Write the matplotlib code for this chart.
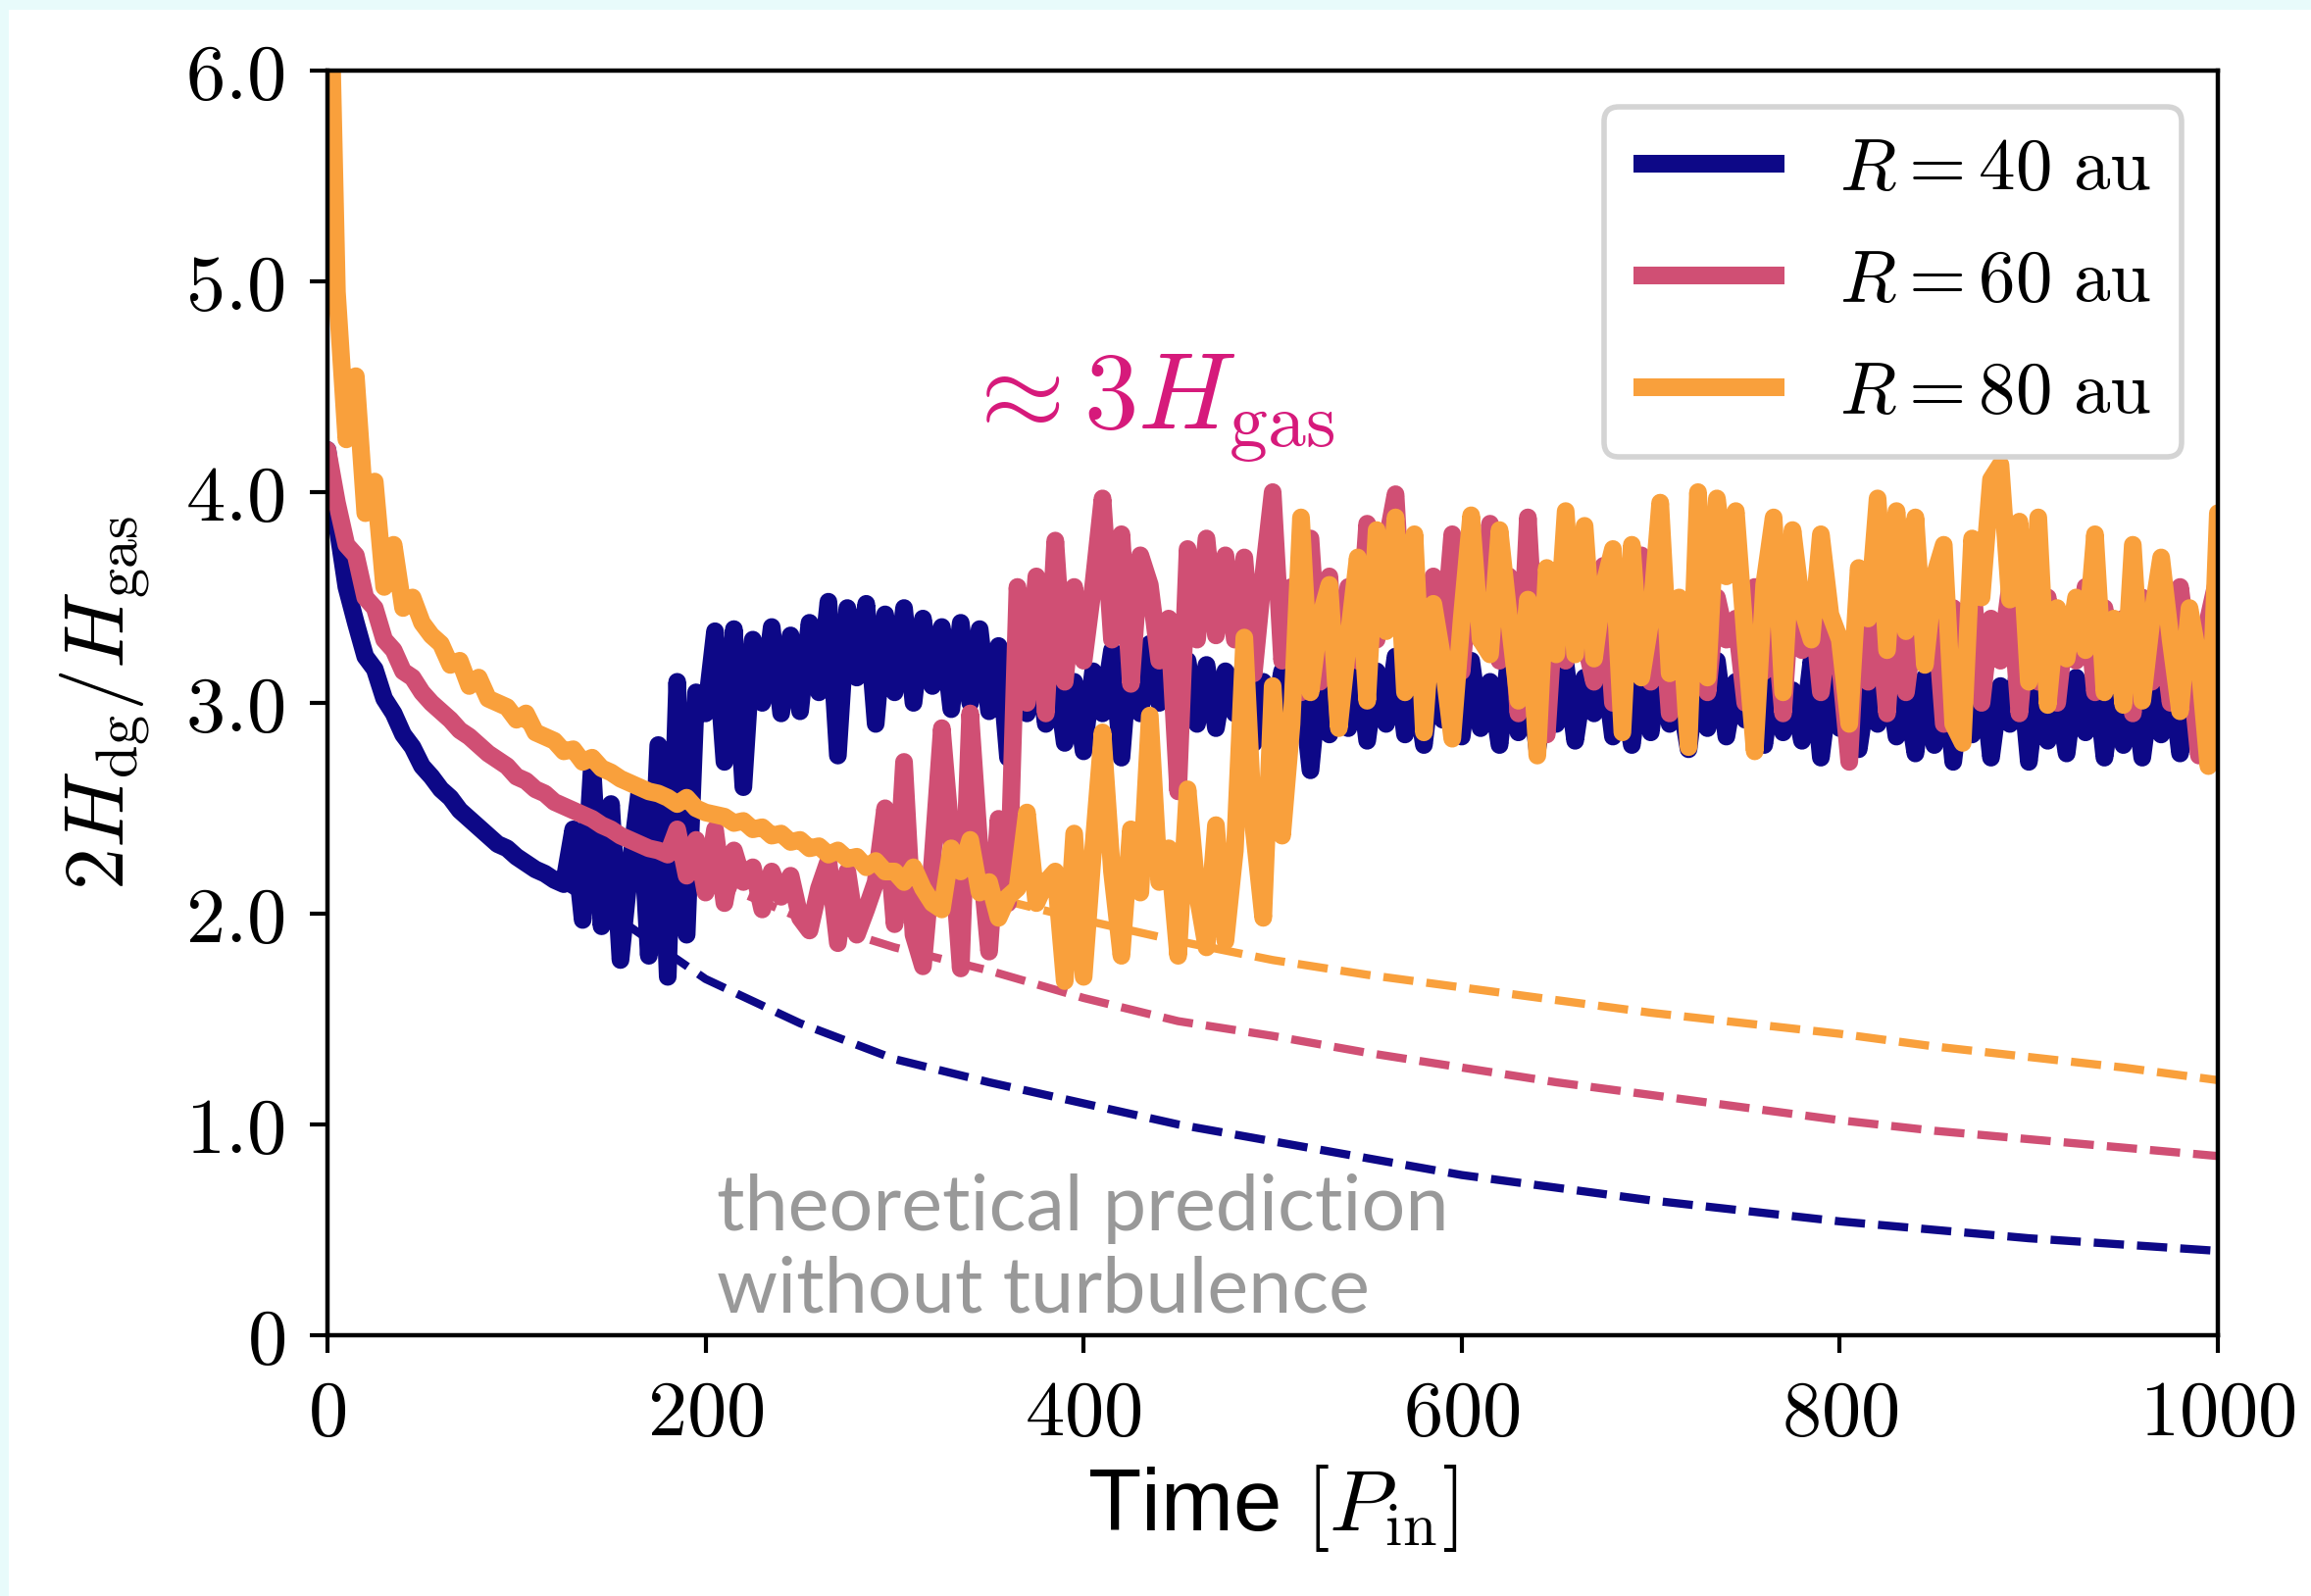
import matplotlib
matplotlib.use("Agg")
import matplotlib.pyplot as plt
from matplotlib.patches import Rectangle
import numpy as np

plt.rcParams["mathtext.fontset"] = "cm"
plt.rcParams["font.family"] = ["Liberation Sans", "DejaVu Sans"]

# sampled every 5 P_in, t = 0 ... 1000
time = np.arange(0, 1001, 5)

h_40au = [
    4.20, 3.85, 3.55, 3.38, 3.22, 3.16, 3.02, 2.95, 2.85, 2.79,
    2.70, 2.65, 2.59, 2.55, 2.49, 2.45, 2.41, 2.37, 2.33, 2.31,
    2.27, 2.24, 2.21, 2.19, 2.16, 2.14, 2.40, 1.97, 2.72, 1.94,
    2.52, 1.78, 2.22, 2.58, 1.80, 2.80, 1.70, 3.10, 1.90, 3.05,
    2.95, 3.34, 2.72, 3.35, 2.60, 3.30, 3.00, 3.36, 2.95, 3.32,
    2.96, 3.38, 3.05, 3.48, 2.75, 3.45, 3.12, 3.47, 2.90, 3.42,
    3.05, 3.45, 3.00, 3.40, 3.08, 3.36, 2.97, 3.38, 3.00, 3.35,
    2.96, 3.27, 2.74, 3.20, 2.95, 3.25, 2.90, 3.15, 2.81, 3.10,
    2.77, 3.15, 2.95, 3.25, 2.74, 3.30, 2.95, 3.28, 3.00, 3.34,
    2.95, 3.20, 2.90, 3.18, 2.88, 3.15, 2.95, 3.20, 2.81, 3.10,
    2.90, 3.15, 2.85, 3.10, 2.68, 3.15, 2.85, 3.12, 2.88, 3.18,
    2.82, 3.15, 2.90, 3.22, 2.85, 3.10, 2.80, 3.18, 2.92, 3.12,
    2.84, 3.20, 2.88, 3.10, 2.80, 3.22, 2.86, 3.15, 2.78, 3.05,
    2.90, 3.18, 2.82, 3.12, 2.95, 3.20, 2.84, 3.08, 2.80, 3.16,
    2.86, 3.22, 2.90, 3.05, 2.78, 3.15, 2.88, 3.20, 2.84, 3.10,
    2.92, 3.18, 2.80, 3.12, 2.86, 3.06, 2.82, 3.20, 2.74, 3.10,
    2.88, 3.15, 2.78, 3.08, 2.90, 3.16, 2.84, 3.05, 2.76, 3.12,
    2.80, 3.18, 2.72, 3.10, 2.85, 3.15, 2.74, 3.08, 2.90, 3.20,
    2.72, 3.10, 2.82, 3.05, 2.76, 3.12, 2.86, 3.15, 2.74, 3.06,
    2.80, 3.10, 2.74, 3.08, 2.85, 3.12, 2.76, 3.05, 2.82, 3.00,
    2.72,
]

h_60au = [
    4.20, 3.95, 3.75, 3.70, 3.50, 3.45, 3.30, 3.25, 3.15, 3.12,
    3.05, 3.00, 2.96, 2.92, 2.87, 2.84, 2.80, 2.76, 2.73, 2.70,
    2.65, 2.63, 2.59, 2.57, 2.53, 2.51, 2.49, 2.47, 2.45, 2.42,
    2.40, 2.37, 2.35, 2.33, 2.31, 2.30, 2.28, 2.40, 2.18, 2.35,
    2.10, 2.40, 2.05, 2.30, 2.15, 2.22, 2.02, 2.20, 2.08, 2.18,
    1.98, 1.92, 2.12, 2.25, 1.86, 2.20, 1.90, 2.02, 2.15, 2.50,
    1.95, 2.72, 1.90, 1.75, 2.25, 2.88, 2.35, 1.74, 2.95, 2.30,
    1.82, 2.45, 2.05, 3.55, 3.00, 3.60, 2.95, 3.77, 3.10, 3.55,
    3.20, 3.55, 3.97, 3.30, 3.80, 3.09, 3.70, 3.56, 3.20, 3.40,
    2.58, 3.73, 3.30, 3.78, 3.32, 3.70, 3.30, 3.69, 3.14, 3.60,
    4.00, 3.20, 3.55, 3.05, 3.78, 3.10, 3.60, 2.90, 3.55, 3.20,
    3.85, 3.30, 3.75, 3.99, 3.20, 3.70, 3.05, 3.60, 3.25, 3.80,
    3.15, 3.70, 3.30, 3.85, 3.20, 3.60, 2.95, 3.88, 3.10, 2.85,
    3.55, 3.20, 3.70, 3.30, 3.10, 3.65, 3.00, 3.50, 3.25, 3.70,
    3.10, 3.55, 2.95, 3.45, 3.20, 3.60, 3.05, 3.50, 3.30, 3.40,
    3.00, 3.55, 3.15, 3.45, 2.95, 3.60, 3.25, 3.50, 3.05, 3.40,
    3.20, 2.72, 3.55, 3.10, 3.45, 2.95, 3.60, 3.05, 3.40, 3.20,
    3.50, 2.90, 3.45, 3.15, 3.60, 3.00, 3.40, 3.20, 3.55, 2.95,
    3.45, 3.10, 3.50, 3.00, 3.40, 3.20, 3.55, 3.05, 3.45, 3.15,
    3.40, 2.95, 3.50, 3.10, 3.35, 3.00, 3.55, 3.20, 2.75, 3.40,
    3.60,
]

h_80au = [
    7.00, 4.95, 4.25, 4.55, 3.90, 4.05, 3.55, 3.75, 3.45, 3.50,
    3.38, 3.32, 3.28, 3.18, 3.20, 3.08, 3.12, 3.02, 3.00, 2.98,
    2.92, 2.95, 2.86, 2.84, 2.82, 2.77, 2.78, 2.72, 2.74, 2.69,
    2.67, 2.64, 2.62, 2.60, 2.58, 2.57, 2.55, 2.52, 2.55, 2.50,
    2.48, 2.47, 2.46, 2.43, 2.44, 2.40, 2.41, 2.37, 2.38, 2.34,
    2.35, 2.31, 2.32, 2.28, 2.30, 2.26, 2.27, 2.22, 2.25, 2.20,
    2.20, 2.15, 2.22, 2.12, 2.05, 2.02, 2.31, 2.20, 2.35, 2.10,
    2.15, 1.98, 2.08, 2.12, 2.48, 2.05, 2.15, 2.20, 1.68, 2.38,
    1.70, 2.30, 2.86, 2.20, 1.80, 2.40, 2.10, 2.94, 2.15, 2.31,
    1.80, 2.59, 2.10, 1.84, 2.42, 1.87, 2.30, 3.31, 2.40, 1.98,
    3.08, 2.37, 2.90, 3.88, 3.05, 3.40, 3.56, 2.88, 3.30, 3.69,
    3.01, 3.82, 3.34, 3.88, 3.05, 3.80, 2.86, 3.47, 3.20, 2.83,
    3.40, 3.89, 3.30, 3.23, 3.82, 3.40, 3.01, 3.49, 2.75, 3.64,
    3.23, 3.91, 3.23, 3.84, 3.21, 3.55, 3.73, 2.86, 3.75, 3.12,
    3.40, 3.95, 3.14, 3.50, 2.79, 4.00, 3.12, 3.97, 3.60, 3.91,
    3.30, 2.77, 3.56, 3.88, 3.05, 3.82, 3.45, 3.30, 3.80, 3.42,
    3.30, 2.90, 3.64, 3.40, 3.97, 3.25, 3.91, 3.34, 3.88, 3.18,
    3.60, 3.75, 2.90, 2.81, 3.78, 3.50, 4.06, 4.13, 3.49, 3.86,
    3.10, 3.88, 2.99, 3.45, 3.21, 3.50, 3.25, 3.80, 3.05, 3.40,
    2.99, 3.75, 3.01, 3.40, 3.69, 3.30, 2.96, 3.45, 3.20, 2.70,
    3.90,
]

# theoretical prediction without turbulence, t = 100 ... 1000
theory_time = np.arange(100, 1001, 50)
theory_40au = [2.27, 2.00, 1.69, 1.48, 1.31, 1.20, 1.10, 1.00, 0.92, 0.84,
               0.76, 0.70, 0.64, 0.59, 0.54, 0.50, 0.46, 0.43, 0.40]
theory_60au = [2.64, 2.40, 2.17, 1.98, 1.84, 1.73, 1.60, 1.49, 1.42, 1.34,
               1.27, 1.20, 1.14, 1.08, 1.02, 0.97, 0.93, 0.89, 0.85]
theory_80au = [2.92, 2.67, 2.48, 2.35, 2.20, 2.08, 1.97, 1.87, 1.78, 1.71,
               1.65, 1.59, 1.53, 1.48, 1.43, 1.37, 1.32, 1.27, 1.21]

labels = [r"$R = 40\ \mathrm{au}$", r"$R = 60\ \mathrm{au}$", r"$R = 80\ \mathrm{au}$"]
colors = ["#0d0887", "#d04f74", "#f9a03c"]

fig = plt.figure(figsize=(11.785, 8.14), dpi=200)
fig.patch.set_facecolor("#e8fbfb")
fig.add_artist(Rectangle((0.004, 0.0), 0.996, 0.994, transform=fig.transFigure,
                         facecolor="white", edgecolor="none", zorder=-10))
ax = fig.add_axes([0.1417, 0.1634, 0.818, 0.7924])

for th, c in zip([theory_40au, theory_60au, theory_80au], colors):
    ax.plot(theory_time, th, "--", color=c, lw=3.0, zorder=1)

for h, c, lab in zip([h_40au, h_60au, h_80au], colors, labels):
    ax.plot(time, h, color=c, lw=6.5, label=lab, zorder=2,
            solid_capstyle="round", solid_joinstyle="round")

ax.set_xlim(0, 1000)
ax.set_ylim(0, 6)
ax.set_xticks([0, 200, 400, 600, 800, 1000])
ax.set_xticklabels([r"$0$", r"$200$", r"$400$", r"$600$", r"$800$", r"$1000$"])
ax.set_yticks([0, 1, 2, 3, 4, 5, 6])
ax.set_yticklabels([r"$0$", r"$1.0$", r"$2.0$", r"$3.0$", r"$4.0$", r"$5.0$", r"$6.0$"])
ax.tick_params(axis="both", labelsize=29, length=6.5, width=1.5, direction="out")
ax.tick_params(axis="y", pad=9)
ax.tick_params(axis="x", pad=9)
for sp in ax.spines.values():
    sp.set_linewidth(1.6)

ax.set_xlabel(r"Time $[P_{\rm in}]$", fontsize=32, labelpad=4)
ax.set_ylabel(r"$2H_{\rm dg}/H_{\rm gas}$", fontsize=31, labelpad=12)

ax.text(335, 4.3, r"$\approx 3H_{\rm gas}$", color="#d61a7b", fontsize=40,
        va="baseline", ha="left")
ax.text(206, 0.11, "theoretical prediction\nwithout turbulence", color="#999999",
        fontsize=28.5, family="Lato", va="baseline", ha="left", linespacing=1.2)

leg = ax.legend(loc="upper right", fontsize=27, handlelength=2.05,
                handletextpad=0.75, labelspacing=0.6, borderpad=0.4,
                framealpha=1, fancybox=True)
leg.get_frame().set_edgecolor("#d4d4d4")
leg.get_frame().set_linewidth(2)
for hl in leg.get_lines():
    hl.set_solid_capstyle("butt")

fig.savefig("out.png", dpi=200, facecolor=fig.get_facecolor())
